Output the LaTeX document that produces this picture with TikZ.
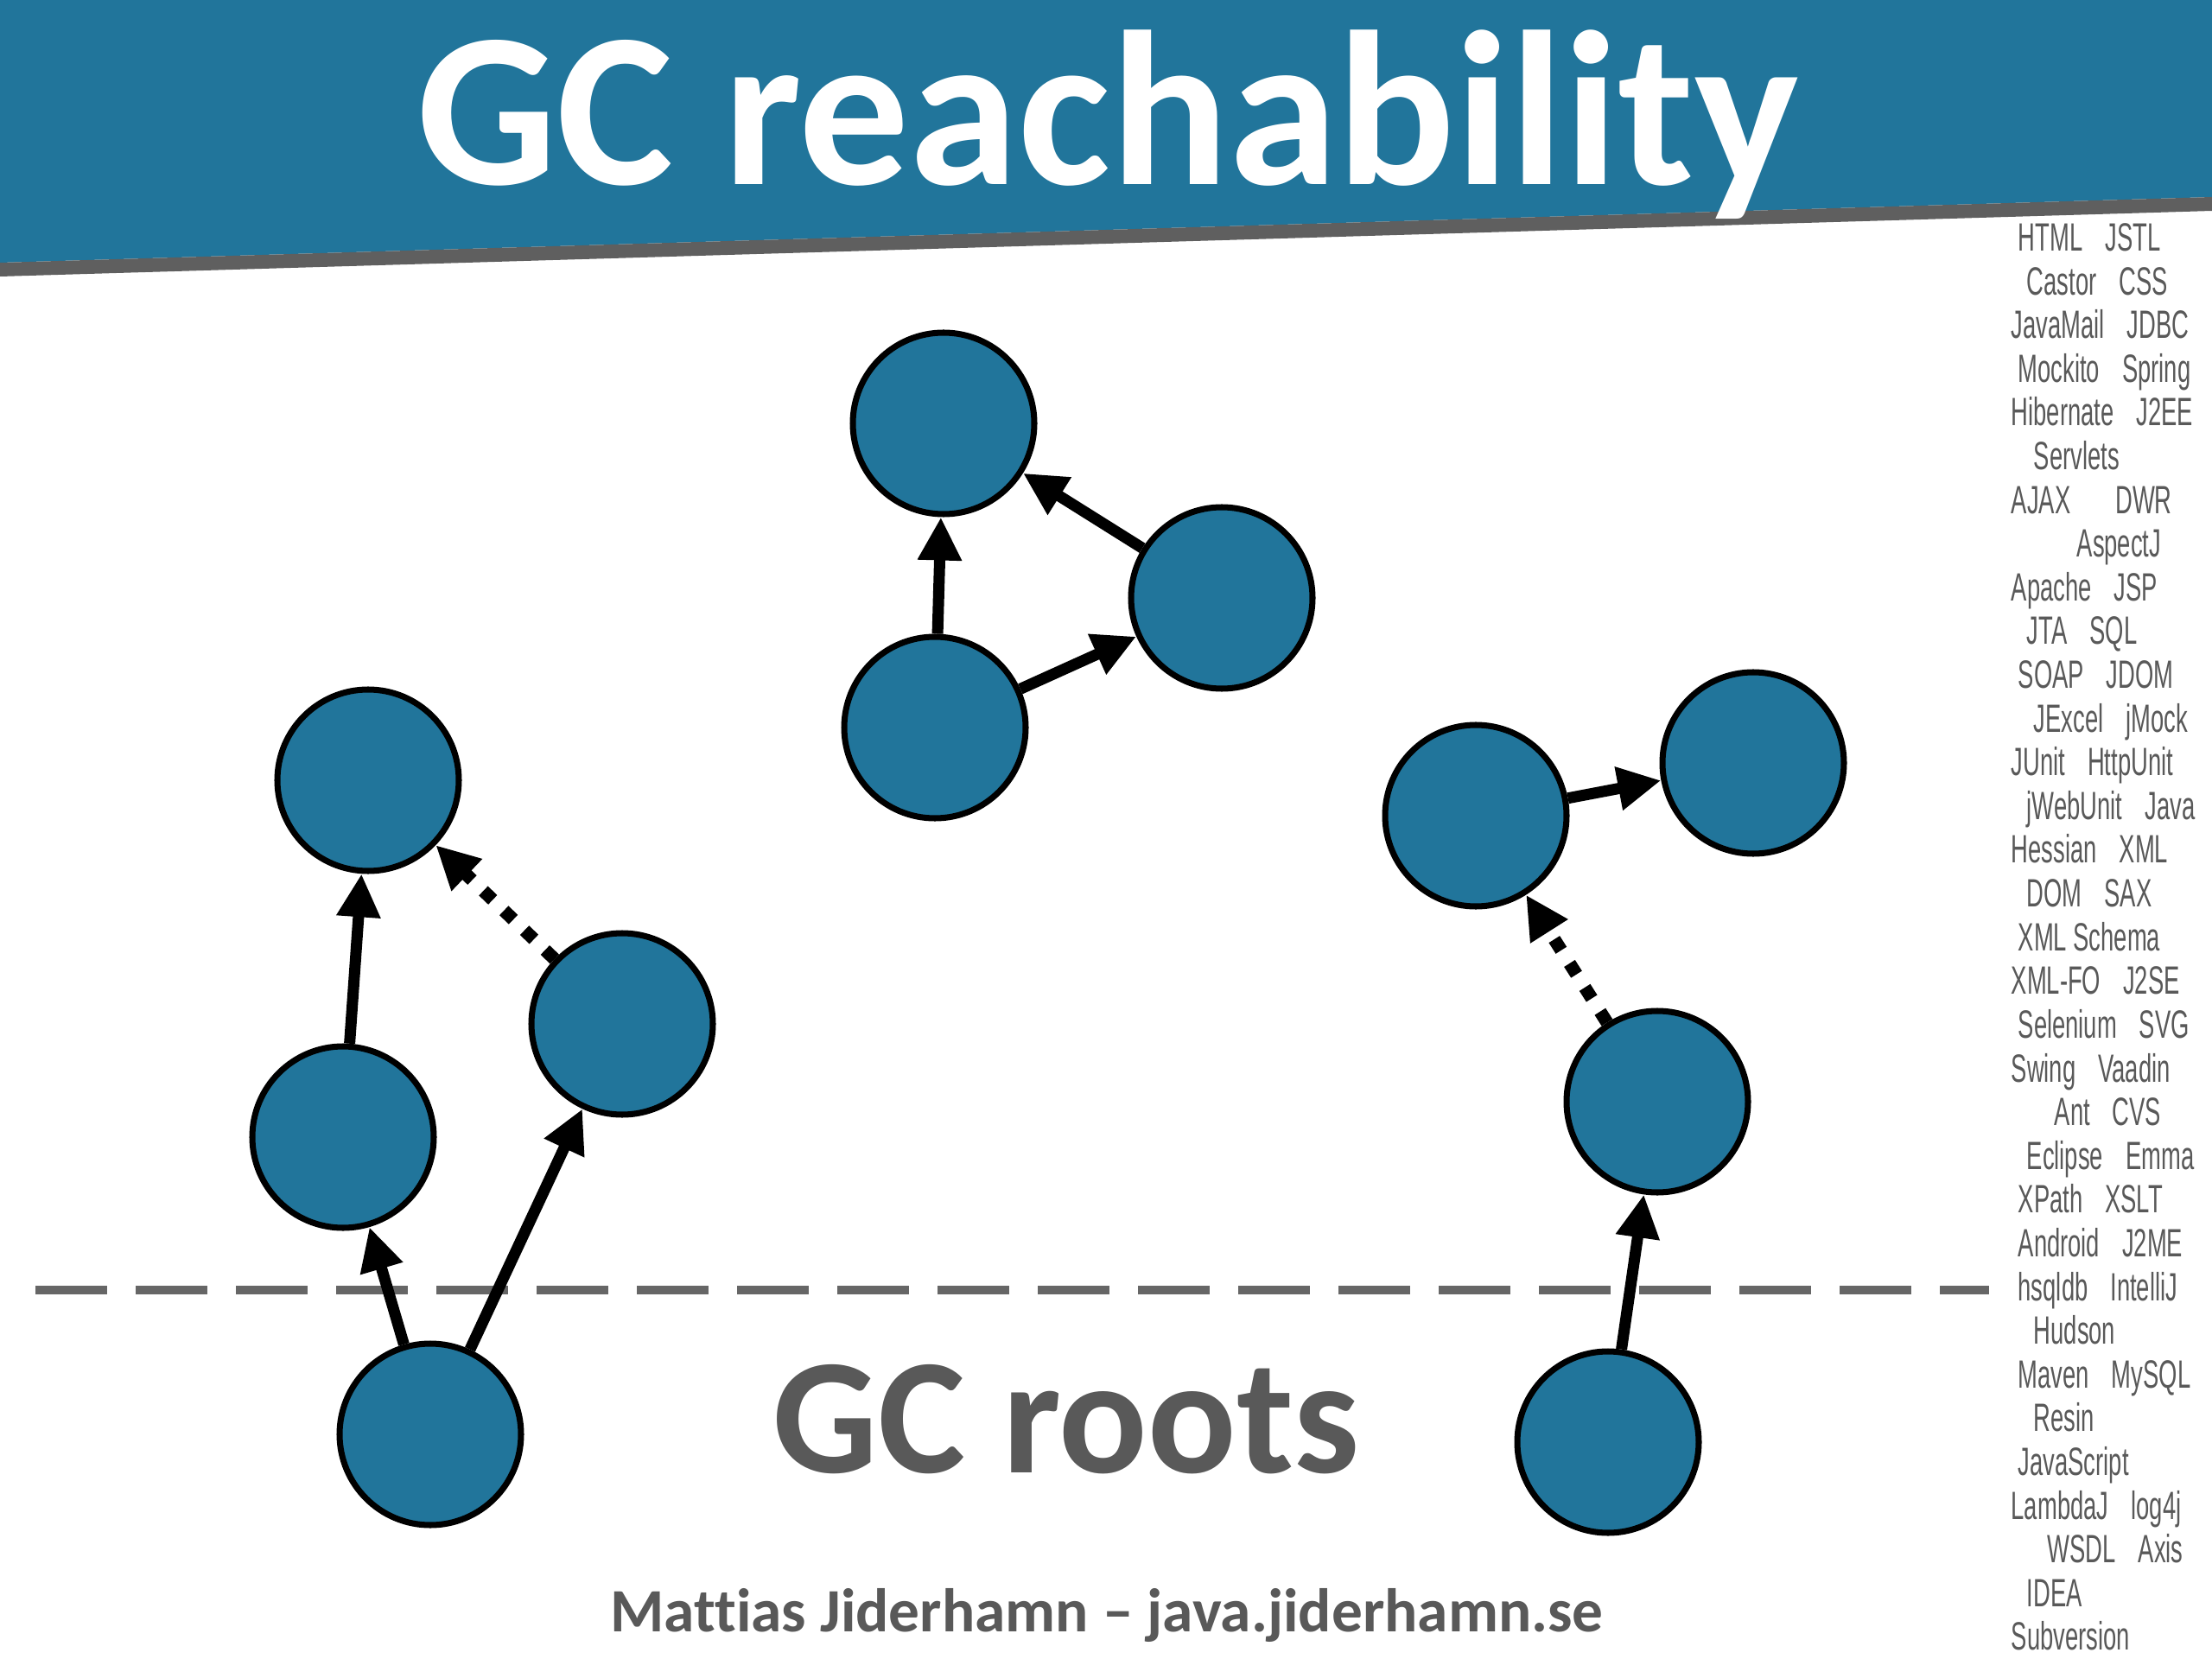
\documentclass[tikz,border=0pt]{standalone}
\usepackage{fontspec}
\setmainfont{Carlito}[Ligatures=CommonOff]
\newfontfamily\techfont[FakeStretch=0.6]{Liberation Sans}
\usetikzlibrary{arrows.meta}
\definecolor{gcblue}{HTML}{21759B}
\definecolor{gcgray}{HTML}{595959}
\definecolor{gcline}{HTML}{666666}
\definecolor{gcshadow}{HTML}{5F5F5F}
\tikzstyle{obj} = [circle, minimum size=2.1cm, inner sep=0pt, draw=black, line width=2pt, fill=gcblue]
\tikzstyle{ref} = [line width=0.13cm, -{Triangle[length=0.5cm, width=0.48cm]}]
\tikzstyle{weakref} = [ref, line width=0.15cm, dash pattern=on 0.15cm off 0.18cm]
\tikzstyle{tech} = [anchor=base west, inner sep=0pt, text=gcgray, font=\techfont\fontsize{13}{13}\selectfont]
\newcommand{\techgap}{\hspace{0.26cm}}

\begin{document}
\begin{tikzpicture}
\useasboundingbox (0,0) rectangle (25.6,-19.2);

% Banner
\fill[gcblue] (0,0) -- (25.6,0) -- (25.6,-2.28) -- (0,-3.04) -- cycle;
\fill[gcshadow] (0,-3.04) -- (25.6,-2.28) -- (25.6,-2.44) -- (0,-3.2) -- cycle;
\node (title) [anchor=base, inner sep=0pt, text=white, font=\fontsize{72.5}{72.5}\selectfont\bfseries] at (12.82,-2.14) {GC reachability};

% Roots line
\coordinate (rootsL) at (0.41,-14.93);
\coordinate (rootsR) at (23.02,-14.93);
\draw[gcline, line width=0.1cm, dash pattern=on 0.83cm off 0.33cm] (rootsL) -- (rootsR);

% Nodes
\node (tri1) [obj] at (10.92,-4.90) {};
\node (tri2) [obj] at (14.14,-6.92) {};
\node (tri3) [obj] at (10.82,-8.42) {};

\node (lTop) [obj] at (4.26,-9.03) {};
\node (lMid) [obj] at (3.97,-13.16) {};
\node (lRight) [obj] at (7.20,-11.85) {};
\node (lRoot) [obj] at (4.98,-16.60) {};

\node (rLeft) [obj] at (17.08,-9.44) {};
\node (rRight) [obj] at (20.29,-8.83) {};
\node (rMid) [obj] at (19.18,-12.75) {};
\node (rRoot) [obj] at (18.61,-16.69) {};

% Paths
\draw [ref] (tri3) -- (tri1);
\draw [ref] (tri2) -- (tri1);
\draw [ref] (tri3) -- (tri2);

\draw [ref] (lMid) -- (lTop);
\draw [weakref] (lRight) -- (lTop);
\draw [ref] (lRoot) -- (lMid);
\draw [ref] (lRoot) -- (lRight);

\draw [ref] (rLeft) -- (rRight);
\draw [weakref] (rMid) -- (rLeft);
\draw [ref] (rRoot) -- (rMid);

% Texts
\node (roots) [anchor=base, inner sep=0pt, text=gcgray, font=\fontsize{54.3}{54.3}\selectfont\bfseries] at (12.34,-17.04) {GC roots};
\node (footer) [anchor=base, inner sep=0pt, text=gcgray, font=\fontsize{20.3}{20.3}\selectfont\bfseries] at (12.81,-18.88) {Mattias Jiderhamn – java.jiderhamn.se};

\foreach \x/\t [count=\i] in {23.35/HTML\techgap JSTL, 23.45/Castor\techgap CSS, 23.27/JavaMail\techgap JDBC,
  23.35/Mockito\techgap Spring, 23.27/Hibernate\techgap J2EE, 23.53/Servlets, 23.27/AJAX\techgap\techgap DWR,
  24.03/AspectJ, 23.27/Apache\techgap JSP, 23.45/JTA\techgap SQL, 23.35/SOAP\techgap JDOM,
  23.53/JExcel\techgap jMock, 23.27/JUnit\techgap HttpUnit, 23.45/jWebUnit\techgap Java,
  23.27/Hessian\techgap XML, 23.45/DOM\techgap SAX, 23.35/XML Schema, 23.27/XML-FO\techgap J2SE,
  23.35/Selenium\techgap SVG, 23.27/Swing\techgap Vaadin, 23.77/Ant\techgap CVS,
  23.45/Eclipse\techgap Emma, 23.35/XPath\techgap XSLT, 23.35/Android\techgap J2ME,
  23.35/hsqldb\techgap IntelliJ, 23.53/Hudson, 23.35/Maven\techgap MySQL, 23.53/Resin,
  23.35/JavaScript, 23.27/LambdaJ\techgap log4j, 23.69/WSDL\techgap Axis, 23.45/IDEA, 23.27/Subversion}
  \node (tech\i) [tech] at (\x,{-2.906-0.506*(\i-1)}) {\t};

\end{tikzpicture}
\end{document}
